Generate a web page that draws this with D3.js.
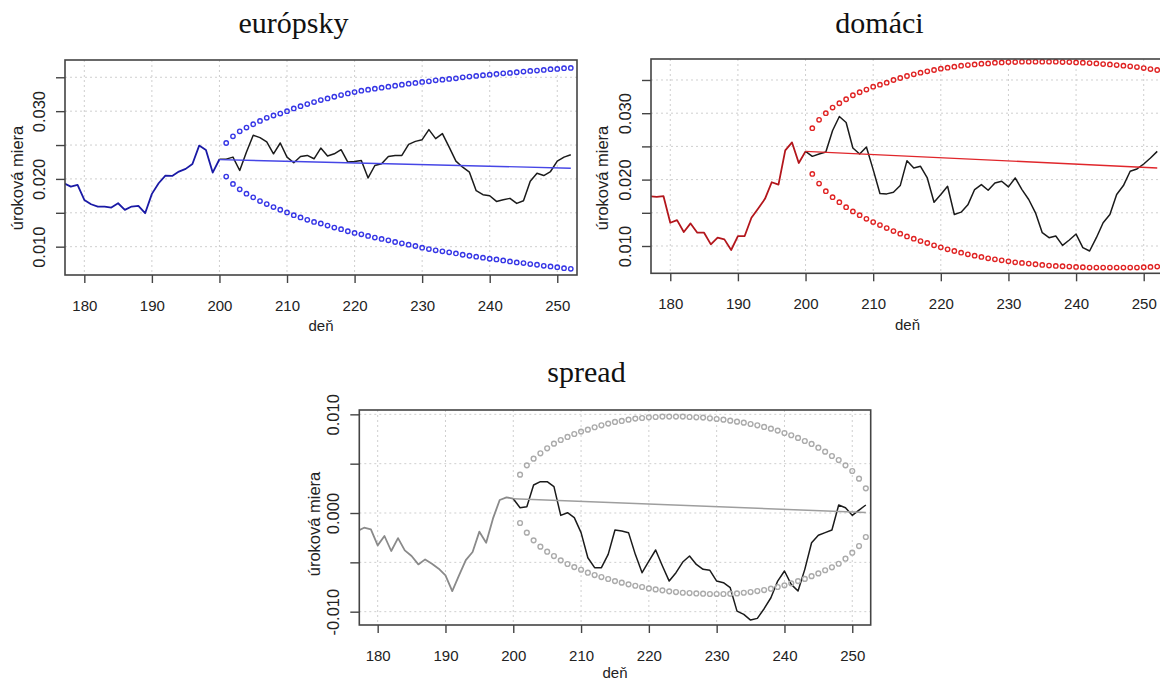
<!DOCTYPE html>
<html>
<head>
<meta charset="utf-8">
<script src="https://cdn.jsdelivr.net/npm/d3@7/dist/d3.min.js"></script>
<style>
  body { margin: 0; background: #fff; }
  svg { display: block; }
</style>
</head>
<body>
<svg id="chart" width="1160" height="681"></svg>
<script>
// Day indices: observed history, test period, forecast band, forecast line ends
const histDays = d3.range(177, 201);
const testDays = d3.range(200, 253);
const bandDays = d3.range(201, 253);
const fcstDays = [200, 252];

// Axis ticks and labels
const dayTicks = [180, 190, 200, 210, 220, 230, 240, 250];
const rateTicks = [0.010, 0.015, 0.020, 0.025, 0.030, 0.035];
const rateLabels = ["0.010", "0.020", "0.030"];
const spreadTicks = [-0.010, -0.005, 0.000, 0.005, 0.010];
const spreadLabels = ["-0.010", "0.000", "0.010"];

// európsky (European rate)
const euHist = [0.01936, 0.01887, 0.01911, 0.01690, 0.01626, 0.01592, 0.01592, 0.01577, 0.01641, 0.01543,
  0.01592, 0.01601, 0.01494, 0.01779, 0.01936, 0.02049, 0.02044, 0.02108, 0.02148, 0.02221,
  0.02492, 0.02428, 0.02093, 0.02290];
const euTest = [0.02290, 0.02292, 0.02322, 0.02124, 0.02396, 0.02644, 0.02609, 0.02545, 0.02371, 0.02530,
  0.02322, 0.02238, 0.02332, 0.02347, 0.02297, 0.02455, 0.02337, 0.02371, 0.02431, 0.02248,
  0.02257, 0.02272, 0.02015, 0.02198, 0.02223, 0.02332, 0.02347, 0.02347, 0.02510, 0.02554,
  0.02579, 0.02728, 0.02594, 0.02668, 0.02470, 0.02262, 0.02173, 0.02099, 0.01827, 0.01767,
  0.01752, 0.01668, 0.01693, 0.01713, 0.01639, 0.01678, 0.01965, 0.02084, 0.02050, 0.02109,
  0.02262, 0.02322, 0.02356];
const euFcst = [0.02285, 0.02158];
const euUpper = [0.02530, 0.02629, 0.02703, 0.02757, 0.02807, 0.02856, 0.02901, 0.02936, 0.02965, 0.03000,
  0.03040, 0.03074, 0.03104, 0.03134, 0.03163, 0.03188, 0.03213, 0.03238, 0.03262, 0.03282,
  0.03302, 0.03317, 0.03332, 0.03346, 0.03361, 0.03376, 0.03391, 0.03406, 0.03416, 0.03431,
  0.03440, 0.03455, 0.03465, 0.03475, 0.03485, 0.03500, 0.03510, 0.03520, 0.03530, 0.03539,
  0.03549, 0.03559, 0.03564, 0.03574, 0.03584, 0.03594, 0.03599, 0.03609, 0.03619, 0.03624,
  0.03634, 0.03638];
const euLower = [0.02035, 0.01926, 0.01847, 0.01782, 0.01728, 0.01673, 0.01629, 0.01584, 0.01545, 0.01505,
  0.01465, 0.01431, 0.01396, 0.01366, 0.01342, 0.01312, 0.01282, 0.01258, 0.01228, 0.01203,
  0.01183, 0.01159, 0.01134, 0.01114, 0.01094, 0.01069, 0.01050, 0.01030, 0.01010, 0.00985,
  0.00965, 0.00946, 0.00931, 0.00916, 0.00901, 0.00881, 0.00866, 0.00852, 0.00837, 0.00822,
  0.00812, 0.00797, 0.00782, 0.00767, 0.00758, 0.00743, 0.00733, 0.00718, 0.00708, 0.00698,
  0.00683, 0.00673];

// domáci (domestic rate)
const domHist = [0.0175, 0.0174, 0.0175, 0.0135, 0.0139, 0.0121, 0.0134, 0.0120, 0.0120, 0.01025,
  0.01125, 0.0110, 0.0094, 0.0115, 0.0115, 0.01425, 0.01565, 0.0171, 0.0196, 0.01925,
  0.0244, 0.0256, 0.0225, 0.02425];
const domTest = [0.02425, 0.0235, 0.02385, 0.02415, 0.0274, 0.0295, 0.0286, 0.02475, 0.02385, 0.0249,
  0.0215, 0.0179, 0.01785, 0.0181, 0.0191, 0.02285, 0.02175, 0.0220, 0.02025, 0.0166,
  0.01775, 0.0190, 0.01475, 0.0151, 0.0162, 0.0185, 0.01925, 0.0184, 0.0195, 0.01975,
  0.0189, 0.02025, 0.0185, 0.0170, 0.0150, 0.0120, 0.01125, 0.0115, 0.0101, 0.0109,
  0.0118, 0.00975, 0.00925, 0.01125, 0.0135, 0.01475, 0.01775, 0.0191, 0.02125, 0.0216,
  0.02235, 0.02325, 0.02425];
const domFcst = [0.02425, 0.02175];
const domUpper = [0.02775, 0.0290, 0.0300, 0.03085, 0.0315, 0.0321, 0.0327, 0.03315, 0.03355, 0.0340,
  0.0343, 0.0346, 0.0350, 0.0353, 0.0356, 0.03585, 0.0361, 0.0363, 0.0365, 0.0367,
  0.03685, 0.0370, 0.03715, 0.03725, 0.03735, 0.03745, 0.0375, 0.0376, 0.03765, 0.0377,
  0.0377, 0.03775, 0.03775, 0.03775, 0.03775, 0.03775, 0.03775, 0.0377, 0.0377, 0.03765,
  0.0376, 0.03755, 0.0375, 0.0374, 0.03735, 0.03725, 0.03715, 0.03705, 0.03695, 0.0368,
  0.03665, 0.0365];
const domLower = [0.02085, 0.0194, 0.01825, 0.01735, 0.0166, 0.01585, 0.0152, 0.01465, 0.0141, 0.0136,
  0.01315, 0.0127, 0.01225, 0.01185, 0.01145, 0.0111, 0.01075, 0.01045, 0.0101, 0.0098,
  0.0095, 0.00925, 0.0090, 0.00875, 0.00855, 0.00835, 0.00815, 0.0080, 0.00785, 0.0077,
  0.00755, 0.00745, 0.00735, 0.00725, 0.00715, 0.00705, 0.0070, 0.00695, 0.0069, 0.00685,
  0.0068, 0.00675, 0.00675, 0.00675, 0.00675, 0.00675, 0.00675, 0.00675, 0.00675, 0.0068,
  0.00685, 0.0069];

// spread (domestic minus European)
const sprHist = [-0.00183, -0.00149, -0.00166, -0.00328, -0.00233, -0.00385, -0.00254, -0.00379, -0.00436, -0.00521,
  -0.00470, -0.00514, -0.00564, -0.00632, -0.00791, -0.00632, -0.00477, -0.00395, -0.00189, -0.00301,
  -0.00057, 0.00132, 0.00159, 0.00145];
const sprTest = [0.00145, 0.00054, 0.00064, 0.00284, 0.00318, 0.00318, 0.00267, -0.00024, 0.00003, -0.00047,
  -0.00199, -0.00453, -0.00554, -0.00554, -0.00419, -0.00172, -0.00183, -0.00199, -0.00419, -0.00605,
  -0.00487, -0.00375, -0.00537, -0.00690, -0.00605, -0.00497, -0.00436, -0.00521, -0.00571, -0.00581,
  -0.00690, -0.00706, -0.00757, -0.00994, -0.01028, -0.01085, -0.01068, -0.00970, -0.00859, -0.00690,
  -0.00588, -0.00723, -0.00791, -0.00571, -0.00301, -0.00226, -0.00199, -0.00172, 0.00081, 0.00054,
  -0.00024, 0.00030, 0.00081];
const sprFcst = [0.00145, 0.00005];
const sprUpper = [0.00389, 0.00483, 0.00551, 0.00605, 0.00656, 0.00703, 0.00740, 0.00771, 0.00801, 0.00825,
  0.00845, 0.00869, 0.00889, 0.00906, 0.00923, 0.00933, 0.00946, 0.00957, 0.00963, 0.00970,
  0.00973, 0.00977, 0.00977, 0.00977, 0.00977, 0.00973, 0.00970, 0.00967, 0.00960, 0.00953,
  0.00946, 0.00936, 0.00926, 0.00916, 0.00902, 0.00889, 0.00872, 0.00855, 0.00835, 0.00811,
  0.00788, 0.00761, 0.00730, 0.00700, 0.00662, 0.00622, 0.00578, 0.00537, 0.00483, 0.00426,
  0.00348, 0.00250];
const sprLower = [-0.00101, -0.00199, -0.00277, -0.00341, -0.00392, -0.00436, -0.00480, -0.00517, -0.00548, -0.00575,
  -0.00605, -0.00629, -0.00649, -0.00669, -0.00690, -0.00706, -0.00723, -0.00737, -0.00750, -0.00764,
  -0.00774, -0.00784, -0.00794, -0.00801, -0.00808, -0.00811, -0.00815, -0.00818, -0.00821, -0.00821,
  -0.00821, -0.00818, -0.00815, -0.00808, -0.00801, -0.00791, -0.00781, -0.00767, -0.00750, -0.00733,
  -0.00713, -0.00690, -0.00668, -0.00640, -0.00612, -0.00580, -0.00550, -0.00514, -0.00463, -0.00402,
  -0.00335, -0.00243];

const svg = d3.select("#chart");
const defs = svg.append("defs");
const sans = "'Liberation Sans', Arial, Helvetica, sans-serif";
const serif = "'Liberation Serif', 'Times New Roman', serif";
// three decimals with a plain hyphen for negatives
const fmt3 = d => (Math.abs(d) < 1e-12 ? 0 : d).toFixed(3);

const panels = [
  {
    id: "eu", title: "európsky", titleX: 293.5, titleY: 33,
    left: 65, right: 577, top: 60, bottom: 275, deLabelY: 331,
    xDomain: [177.14, 252.92], yDomain: [0.00582, 0.03755],
    yTicks: rateTicks, yLabels: rateLabels, ylabY: 178, ylabX: 23,
    hist: euHist, test: euTest, fcst: euFcst, upper: euUpper, lower: euLower,
    histColor: "#1a1aa6", fcstColor: "#4646e6", dotColor: "#3636e6", dotR: 2.2
  },
  {
    id: "dom", title: "domáci", titleX: 879.5, titleY: 33,
    left: 651, right: 1164, top: 59, bottom: 273.3, deLabelY: 329.5,
    xDomain: [177.15, 253.0], yDomain: [0.00589, 0.03816],
    yTicks: rateTicks, yLabels: rateLabels, ylabY: 178, ylabX: 608,
    hist: domHist, test: domTest, fcst: domFcst, upper: domUpper, lower: domLower,
    histColor: "#b3161c", fcstColor: "#e0262b", dotColor: "#e02424", dotR: 2.2
  },
  {
    id: "spr", title: "spread", titleX: 586.5, titleY: 382,
    left: 359.3, right: 870.7, top: 410, bottom: 625, deLabelY: 678,
    xDomain: [177.29, 252.72], yDomain: [-0.01135, 0.01044],
    yTicks: spreadTicks, yLabels: spreadLabels, ylabY: 524, ylabX: 320,
    hist: sprHist, test: sprTest, fcst: sprFcst, upper: sprUpper, lower: sprLower,
    histColor: "#8a8a8a", fcstColor: "#9e9e9e", dotColor: "#ababab", dotR: 2.4
  }
];

function drawPanel(p) {
  const x = d3.scaleLinear().domain(p.xDomain).range([p.left, p.right]);
  const y = d3.scaleLinear().domain(p.yDomain).range([p.bottom, p.top]);
  const g = svg.append("g").attr("class", "panel-" + p.id);

  // dotted reference grid
  const grid = g.append("g").attr("stroke", "#cfcfcf").attr("stroke-width", 1)
    .attr("stroke-dasharray", "2,3");
  grid.selectAll("line.v").data(dayTicks).join("line").attr("class", "v")
    .attr("x1", d => x(d)).attr("x2", d => x(d))
    .attr("y1", p.top).attr("y2", p.bottom);
  grid.selectAll("line.h").data(p.yTicks).join("line").attr("class", "h")
    .attr("x1", p.left).attr("x2", p.right)
    .attr("y1", d => y(d)).attr("y2", d => y(d));

  defs.append("clipPath").attr("id", "clip-" + p.id)
    .append("rect").attr("x", p.left).attr("y", p.top)
    .attr("width", p.right - p.left).attr("height", p.bottom - p.top);
  const plot = g.append("g").attr("clip-path", `url(#clip-${p.id})`);

  const lineOf = days => d3.line().x((d, i) => x(days[i])).y(d => y(d));

  plot.append("path").datum(p.hist).attr("d", lineOf(histDays))
    .attr("fill", "none").attr("stroke", p.histColor).attr("stroke-width", 1.8)
    .attr("stroke-linejoin", "round");
  plot.append("path").datum(p.test).attr("d", lineOf(testDays))
    .attr("fill", "none").attr("stroke", "#1b1b1b").attr("stroke-width", 1.5)
    .attr("stroke-linejoin", "round");
  plot.append("path").datum(p.fcst).attr("d", lineOf(fcstDays))
    .attr("fill", "none").attr("stroke", p.fcstColor).attr("stroke-width", 1.4);

  const dots = plot.append("g").attr("fill", "none").attr("stroke", p.dotColor).attr("stroke-width", 1.4);
  dots.selectAll("circle.u").data(p.upper).join("circle").attr("class", "u")
    .attr("cx", (d, i) => x(bandDays[i])).attr("cy", d => y(d)).attr("r", p.dotR);
  dots.selectAll("circle.l").data(p.lower).join("circle").attr("class", "l")
    .attr("cx", (d, i) => x(bandDays[i])).attr("cy", d => y(d)).attr("r", p.dotR);

  // frame
  g.append("rect").attr("x", p.left).attr("y", p.top)
    .attr("width", p.right - p.left).attr("height", p.bottom - p.top)
    .attr("fill", "none").attr("stroke", "#444").attr("stroke-width", 1.6);

  // x axis
  const xAxis = g.append("g").attr("transform", `translate(0,${p.bottom})`)
    .call(d3.axisBottom(x).tickValues(dayTicks).tickSize(8).tickFormat(d3.format("d")));
  xAxis.select(".domain").remove();
  xAxis.selectAll(".tick line").attr("stroke", "#444").attr("stroke-width", 1.4);
  xAxis.selectAll(".tick text").attr("y", 36).attr("dy", null)
    .attr("font-family", sans).attr("font-size", 15).attr("fill", "#222");

  // y axis, labels rotated along the axis
  const yAxis = g.append("g").attr("transform", `translate(${p.left},0)`)
    .call(d3.axisLeft(y).tickValues(p.yTicks).tickSize(9)
      .tickFormat(d => p.yLabels.includes(fmt3(d)) ? fmt3(d) : ""));
  yAxis.select(".domain").remove();
  yAxis.selectAll(".tick line").attr("stroke", "#444").attr("stroke-width", 1.4);
  yAxis.selectAll(".tick text").attr("transform", "rotate(-90)")
    .attr("x", 0).attr("y", -20).attr("dy", null).attr("text-anchor", "middle")
    .attr("font-family", sans).attr("font-size", 16.5).attr("fill", "#222");

  // axis titles
  g.append("text").attr("x", (p.left + Math.min(p.right, 1164)) / 2).attr("y", p.deLabelY)
    .attr("text-anchor", "middle").attr("font-family", sans).attr("font-size", 15)
    .attr("fill", "#222").text("deň");
  g.append("text").attr("transform", `translate(${p.ylabX},${p.ylabY}) rotate(-90)`)
    .attr("text-anchor", "middle").attr("font-family", sans).attr("font-size", 16.5)
    .attr("fill", "#222").text("úroková miera");

  // panel title
  g.append("text").attr("x", p.titleX).attr("y", p.titleY)
    .attr("text-anchor", "middle").attr("font-family", serif).attr("font-size", 30)
    .attr("fill", "#111").text(p.title);
}

panels.forEach(drawPanel);
</script>
</body>
</html>
